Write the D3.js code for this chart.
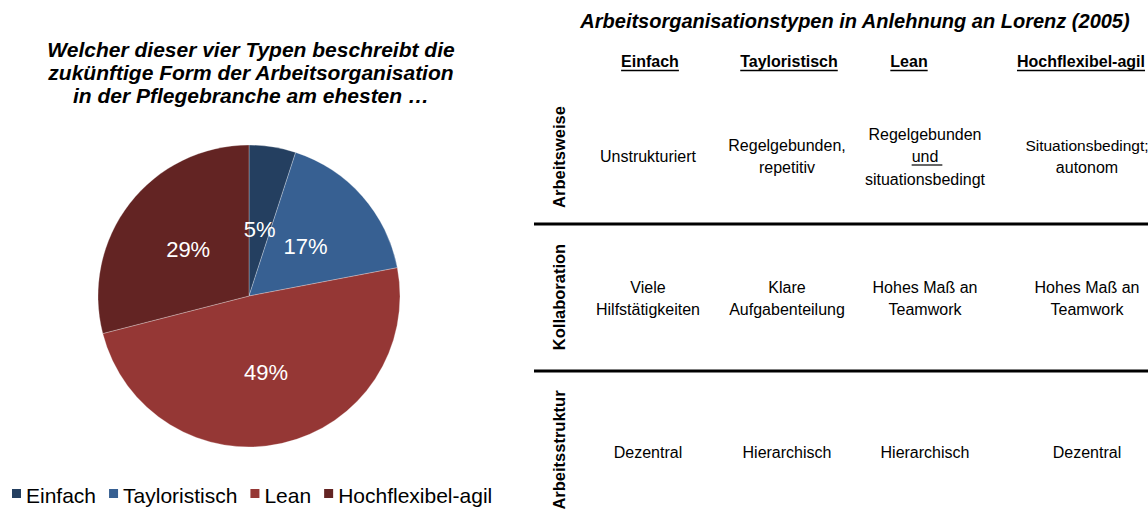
<!DOCTYPE html>
<html><head><meta charset="utf-8">
<script src="https://cdn.jsdelivr.net/npm/d3@7"></script>
<style>body{margin:0;background:#fff}svg{display:block;font-family:"Liberation Sans",Arial,sans-serif}</style>
</head><body>
<svg id="c" width="1148" height="515"></svg>
<script>
const categories = ["Einfach","Tayloristisch","Lean","Hochflexibel-agil"];
const shares = [5,17,49,29];
const colors = ["#243f60","#376092","#953735","#632423"];
const pieTitle = ["Welcher dieser vier Typen beschreibt die","zukünftige Form der Arbeitsorganisation","in der Pflegebranche am ehesten …"];
const tableTitle = "Arbeitsorganisationstypen in Anlehnung an Lorenz (2005)";
const rowLabels = ["Arbeitsweise","Kollaboration","Arbeitsstruktur"];
const cells = [
  [["Unstrukturiert"],["Regelgebunden,","repetitiv"],["Regelgebunden","und","situationsbedingt"],["Situationsbedingt;","autonom"]],
  [["Viele","Hilfstätigkeiten"],["Klare","Aufgabenteilung"],["Hohes Maß an","Teamwork"],["Hohes Maß an","Teamwork"]],
  [["Dezentral"],["Hierarchisch"],["Hierarchisch"],["Dezentral"]]
];

const svg = d3.select("#c");

// Pie title
svg.append("g").selectAll("text").data(pieTitle).join("text")
  .attr("x",251).attr("y",(d,i)=>57+i*23).attr("text-anchor","middle")
  .attr("font-size",21).attr("font-weight","bold").attr("font-style","italic").attr("fill","#000")
  .text(d=>d);

// Pie
const cx=249, cy=296, r=151;
const pie = d3.pie().sort(null).value(d=>d.v);
const arcs = pie(categories.map((c,i)=>({c,v:shares[i],col:colors[i]})));
const arc = d3.arc().innerRadius(0).outerRadius(r);
const g = svg.append("g").attr("transform",`translate(${cx},${cy})`);
g.selectAll("path").data(arcs).join("path").attr("d",arc).attr("fill",d=>d.data.col)
  .attr("stroke","#ffffff").attr("stroke-opacity",0.35).attr("stroke-width",0.8);
const kf = [0.45,0.50,0.52,0.51];
g.selectAll("text").data(arcs).join("text")
  .attr("x",(d,i)=>{const a=(d.startAngle+d.endAngle)/2; return Math.sin(a)*r*kf[i];})
  .attr("y",(d,i)=>{const a=(d.startAngle+d.endAngle)/2; return -Math.cos(a)*r*kf[i];})
  .attr("dy","0.35em").attr("text-anchor","middle").attr("fill","#fff").attr("font-size",22)
  .text(d=>d.data.v+"%");

// Legend
const lg = svg.append("g");
let lx = 12;
categories.forEach((c,i)=>{
  lg.append("rect").attr("x",lx).attr("y",489).attr("width",9).attr("height",9).attr("fill",colors[i]);
  const t = lg.append("text").attr("x",lx+14).attr("y",503).attr("font-size",21).attr("fill","#000").text(c);
  lx += 14 + t.node().getComputedTextLength() + 13;
});

// Table
svg.append("text").attr("x",855).attr("y",28).attr("text-anchor","middle")
  .attr("font-size",20).attr("font-weight","bold").attr("font-style","italic").text(tableTitle);

const headX = [650,789,909,1081];
const cellX = [648,787,925,1087];
const hg = svg.append("g");
categories.forEach((c,i)=>{
  const t = hg.append("text").attr("x",headX[i]).attr("y",67).attr("text-anchor","middle")
    .attr("font-size",16).attr("font-weight","bold").text(c);
  const w = t.node().getComputedTextLength();
  hg.append("line").attr("x1",headX[i]-w/2).attr("x2",headX[i]+w/2).attr("y1",70.5).attr("y2",70.5)
    .attr("stroke","#000").attr("stroke-width",1.3);
});

// separators
[224,371].forEach(y=>svg.append("line").attr("x1",534).attr("x2",1148).attr("y1",y).attr("y2",y)
  .attr("stroke","#000").attr("stroke-width",3));

const rowCenter = [156,298,452];
const rowLabelY = [157,297,450];
rowLabels.forEach((lab,ri)=>{
  svg.append("text").attr("transform",`translate(565,${rowLabelY[ri]}) rotate(-90)`)
    .attr("text-anchor","middle").attr("font-size",16.5).attr("font-weight","bold").text(lab);
  cells[ri].forEach((lines,ci)=>{
    const n = lines.length, lh = 22.5;
    lines.forEach((ln,li)=>{
      const y = rowCenter[ri] + (li-(n-1)/2)*lh + 6;
      const fs = (ci===3 && ln.length>15) ? 15.5 : 16;
      const t = svg.append("text").attr("x",cellX[ci]).attr("y",y).attr("text-anchor","middle")
        .attr("font-size",fs).attr("fill","#000").text(ln);
      if(ri===0 && ci===2 && li===1){
        const w=t.node().getComputedTextLength();
        svg.append("line").attr("x1",cellX[ci]-w/2).attr("x2",cellX[ci]+w/2+4).attr("y1",y+3).attr("y2",y+3)
          .attr("stroke","#000").attr("stroke-width",1.2);
      }
    });
  });
});
</script>
</body></html>
